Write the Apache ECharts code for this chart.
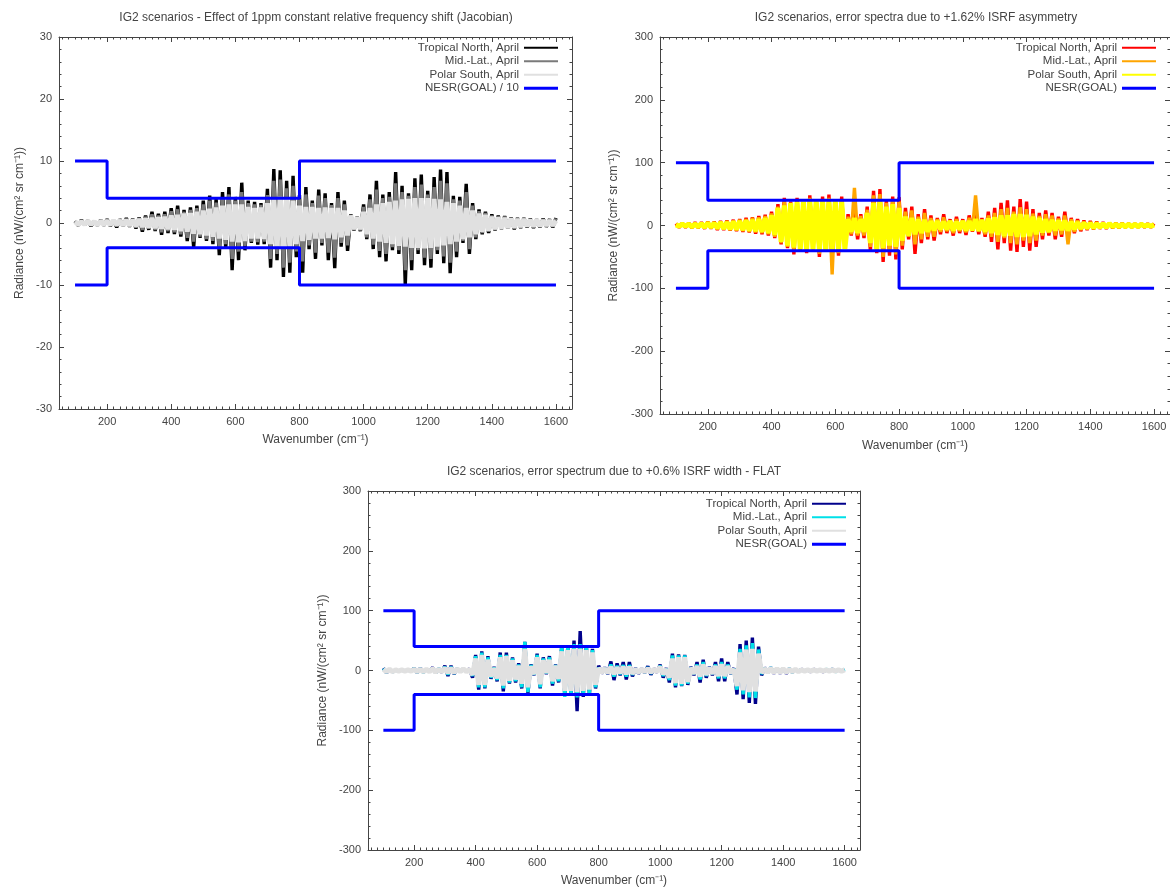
<!DOCTYPE html>
<html>
<head>
<meta charset="utf-8">
<script src="https://cdn.jsdelivr.net/npm/echarts@6/dist/echarts.min.js"></script>
<style>
  html, body { margin: 0; padding: 0; background: #fff; }
  #chart { width: 1170px; height: 888px; }
</style>
</head>
<body>
<div id="chart"></div>
<script>
// wavenumber grid (cm-1)
var wn = [
  100,110,120,130,140,150,160,170,180,190,
  200,210,220,230,240,250,260,270,280,290,
  300,310,320,330,340,350,360,370,380,390,
  400,410,420,430,440,450,460,470,480,490,
  500,510,520,530,540,550,560,570,580,590,
  600,610,620,630,640,650,660,670,680,690,
  700,710,720,730,740,750,760,770,780,790,
  800,810,820,830,840,850,860,870,880,890,
  900,910,920,930,940,950,960,970,980,990,
  1000,1010,1020,1030,1040,1050,1060,1070,1080,1090,
  1100,1110,1120,1130,1140,1150,1160,1170,1180,1190,
  1200,1210,1220,1230,1240,1250,1260,1270,1280,1290,
  1300,1310,1320,1330,1340,1350,1360,1370,1380,1390,
  1400,1410,1420,1430,1440,1450,1460,1470,1480,1490,
  1500,1510,1520,1530,1540,1550,1560,1570,1580,1590,
  1600
];

// panel 1 - 1ppm frequency shift (Jacobian)
var jacTropical = [
  0.3,-0.4,0.5,-0.3,0.4,-0.5,0.3,-0.4,0.5,-0.4,
  0.6,-0.5,0.4,-0.7,0.6,-0.5,0.8,-0.6,0.7,-0.9,
  0.9,-1.4,1.2,-1.1,1.8,-1.3,1.5,-1.9,1.8,-1.6,
  2.4,-1.8,2.8,-2.2,2.1,-2.9,2.5,-3.9,2.8,-2.4,
  3.6,-2.9,4.4,-3.4,3.9,-5.2,5.0,-4.0,5.8,-7.6,
  4.2,-6.0,6.5,-4.4,3.6,-3.2,3.4,-3.5,3.2,-3.4,
  5.5,-7.2,8.7,-6.0,8.5,-8.7,6.8,-8.0,7.6,-5.5,
  4.5,-8.0,5.8,-4.2,3.6,-5.8,5.4,-3.6,4.8,-6.0,
  3.2,-7.3,5.0,-3.8,3.6,-4.5,1.4,-1.2,1.0,-1.3,
  3.0,-2.6,4.6,-4.2,6.8,-5.5,4.6,-6.2,5.0,-4.4,
  8.2,-5.0,6.0,-10.0,4.8,-7.6,7.2,-5.0,7.8,-6.8,
  5.2,-7.2,7.4,-5.0,8.6,-6.5,8.2,-8.1,4.4,-5.5,
  4.2,-3.2,6.3,-5.0,3.2,-2.6,2.2,-1.8,1.8,-1.6,
  1.4,-1.2,1.2,-1.0,1.1,-0.9,0.9,-1.0,0.8,-0.8,
  0.8,-0.7,0.7,-0.8,0.6,-0.7,0.7,-0.6,0.6,-0.7,
  0.8
];
var jacMidLat = [
  0.3,-0.3,0.4,-0.3,0.3,-0.4,0.3,-0.3,0.4,-0.3,
  0.5,-0.4,0.4,-0.5,0.5,-0.4,0.6,-0.5,0.6,-0.7,
  0.8,-1.1,1.0,-0.9,1.4,-1.1,1.2,-1.5,1.4,-1.3,
  1.9,-1.5,2.2,-1.8,1.8,-2.4,2.1,-3.0,2.4,-2.2,
  3.0,-2.6,3.6,-2.9,3.3,-4.2,4.0,-3.4,4.6,-5.8,
  3.6,-4.6,5.0,-3.7,3.2,-3.0,3.0,-3.1,2.9,-3.0,
  4.5,-5.8,6.8,-5.0,7.0,-7.2,5.6,-6.4,6.0,-4.6,
  3.8,-6.2,4.6,-3.6,3.2,-4.8,4.4,-3.2,4.0,-4.8,
  2.9,-5.6,4.0,-3.2,3.0,-3.6,1.3,-1.1,1.0,-1.2,
  2.6,-2.3,3.8,-3.5,5.4,-4.5,4.0,-5.0,4.2,-3.9,
  6.4,-4.4,5.0,-7.6,4.4,-6.0,5.8,-4.4,6.2,-5.6,
  4.6,-5.8,5.8,-4.4,6.8,-5.4,6.4,-6.4,3.8,-4.6,
  3.6,-2.9,5.0,-4.2,2.8,-2.3,1.9,-1.6,1.6,-1.4,
  1.2,-1.1,1.0,-0.9,1.0,-0.8,0.8,-0.9,0.7,-0.7,
  0.7,-0.6,0.6,-0.7,0.5,-0.6,0.6,-0.5,0.5,-0.6,
  0.7
];
var jacPolar = [
  0.2,-0.2,0.2,-0.2,0.3,-0.2,0.2,-0.3,0.3,-0.2,
  0.3,-0.3,0.4,-0.3,0.4,-0.4,0.5,-0.4,0.5,-0.5,
  0.6,-0.6,0.7,-0.7,0.8,-0.8,0.9,-0.9,1.0,-1.0,
  1.2,-1.1,1.3,-1.3,1.5,-1.4,1.6,-1.7,1.8,-1.8,
  2.0,-2.0,2.3,-2.2,2.5,-2.5,2.8,-2.7,3.0,-3.0,
  3.0,-3.1,3.0,-2.9,2.6,-2.5,2.4,-2.5,2.5,-2.6,
  3.2,-3.4,3.8,-3.8,4.2,-4.0,4.0,-3.8,3.6,-3.4,
  2.8,-2.9,2.6,-2.7,2.6,-2.5,2.4,-2.5,2.5,-2.4,
  2.4,-2.6,2.4,-2.3,2.0,-2.0,1.2,-1.0,0.9,-1.0,
  1.8,-1.8,2.4,-2.5,3.0,-3.0,3.2,-3.2,3.4,-3.4,
  3.6,-3.7,3.8,-3.8,3.9,-4.0,4.0,-4.0,4.0,-4.1,
  4.0,-4.0,3.9,-3.8,3.8,-3.6,3.4,-3.4,3.2,-3.0,
  2.8,-2.6,2.4,-2.3,2.0,-1.8,1.5,-1.4,1.3,-1.2,
  1.0,-1.0,0.9,-0.9,0.8,-0.8,0.7,-0.7,0.6,-0.6,
  0.6,-0.5,0.5,-0.5,0.5,-0.5,0.4,-0.4,0.4,-0.4,
  0.4
];

// panel 2 - +1.62% ISRF asymmetry
var asymTropical = [
  3,-3,4,-3,4,-4,5,-4,5,-5,
  6,-5,6,-7,7,-7,8,-8,9,-9,
  10,-10,12,-11,13,-13,15,-14,17,-16,
  22,-20,34,-30,44,-36,38,-46,44,-40,
  36,-44,48,-38,42,-50,46,-40,49,-47,
  40,-48,46,-36,18,-16,20,-22,18,-20,
  30,-40,55,-44,58,-58,40,-48,46,-54,
  45,-38,28,-22,30,-45,18,-28,26,-22,
  16,-24,12,-14,18,-12,10,-16,14,-12,
  10,-15,16,-10,18,-14,12,-18,22,-26,
  28,-38,36,-28,40,-40,30,-42,42,-34,
  38,-40,26,-34,20,-22,24,-16,20,-22,
  14,-18,22,-16,12,-12,10,-9,8,-7,
  7,-6,6,-5,5,-5,4,-4,4,-4,
  4,-3,3,-3,3,-3,3,-3,3,-3,
  3
];
var asymMidLat = [
  2,-2,3,-2,3,-3,4,-3,4,-4,
  5,-4,5,-6,6,-6,7,-7,8,-8,
  9,-9,10,-10,12,-11,13,-12,15,-14,
  19,-18,30,-28,38,-34,35,-40,40,-38,
  34,-40,44,-36,40,-45,42,-38,44,-78,
  38,-44,42,-34,14,-14,60,-16,15,-16,
  25,-34,48,-40,50,-50,36,-42,42,-46,
  38,-32,22,-18,24,-30,14,-22,20,-18,
  12,-18,10,-10,13,-9,8,-12,10,-9,
  8,-11,12,-8,48,-10,9,-14,16,-18,
  20,-26,26,-20,28,-28,22,-30,29,-24,
  26,-28,19,-24,15,-16,18,-12,16,-16,
  11,-14,16,-30,10,-10,8,-7,6,-6,
  5,-5,5,-4,4,-4,3,-3,3,-3,
  3,-3,3,-2,2,-2,2,-2,2,-2,
  2
];
var asymPolar = [
  1,-1,2,-1,2,-2,2,-2,3,-3,
  4,-3,4,-4,5,-5,5,-6,6,-6,
  7,-7,8,-8,9,-9,10,-10,12,-12,
  16,-15,28,-26,32,-32,36,-35,37,-38,
  38,-38,39,-38,40,-39,40,-40,38,-38,
  39,-38,38,-37,10,-10,12,-12,10,-10,
  20,-28,36,-38,38,-36,30,-32,34,-34,
  28,-24,14,-16,12,-14,10,-12,9,-10,
  7,-8,7,-6,6,-6,7,-8,6,-6,
  7,-8,7,-8,10,-8,9,-10,11,-12,
  13,-15,16,-17,16,-16,18,-18,18,-18,
  17,-17,14,-14,12,-11,10,-10,9,-8,
  8,-7,8,-8,6,-6,5,-5,4,-4,
  4,-4,3,-3,3,-3,3,-2,2,-2,
  2,-2,2,-2,2,-2,2,-1,1,-1,
  1
];

// panel 3 - +0.6% ISRF width
var widthTropical = [
  4,-4,2,-2,1,-1,1,-1,1,-1,
  4,-4,4,-3,2,-2,5,-4,3,-3,
  8,-9,8,-6,3,-2,3,-2,3,-12,
  26,-32,32,-30,24,-14,6,-18,30,-35,
  30,-22,22,-20,12,-30,48,-38,10,-8,
  28,-30,22,-6,24,-25,10,-20,40,-42,
  42,-40,50,-68,66,-44,42,-40,36,-30,
  8,-5,5,-6,15,-16,12,-8,14,-15,
  14,-10,4,-5,3,-4,7,-7,3,-3,
  10,-12,4,-20,28,-28,27,-26,26,-24,
  6,-8,14,-20,18,-12,6,-8,14,-18,
  20,-18,14,-6,4,-40,44,-48,50,-54,
  55,-56,40,-8,5,-4,5,-5,4,-5,
  4,-5,3,-3,2,-2,2,-1,1,-2,
  2,-1,1,-2,1,-1,2,-1,1,-1,
  1
];
var widthMidLat = [
  3,-3,2,-2,1,-1,1,-1,1,-1,
  3,-3,3,-3,2,-2,4,-4,3,-2,
  6,-7,6,-5,3,-2,3,-2,2,-9,
  24,-28,30,-28,22,-12,5,-16,26,-30,
  26,-20,20,-18,10,-28,48,-36,9,-7,
  26,-28,20,-5,22,-22,9,-18,42,-44,
  42,-40,44,-45,44,-40,40,-38,34,-28,
  5,-4,4,-5,10,-10,8,-6,9,-10,
  9,-7,3,-4,2,-3,5,-5,2,-2,
  8,-9,3,-16,25,-25,25,-25,25,-22,
  5,-6,10,-15,14,-9,5,-6,10,-13,
  14,-13,10,-5,3,-32,36,-40,42,-45,
  46,-46,35,-6,4,-4,5,-4,4,-4,
  4,-4,3,-3,2,-2,2,-2,2,-2,
  2,-2,2,-2,2,-1,2,-2,1,-1,
  2
];
var widthPolar = [
  2,-2,2,-2,1,-1,1,-1,1,-1,
  2,-2,2,-2,2,-2,3,-3,2,-2,
  4,-4,4,-4,3,-2,3,-2,2,-7,
  20,-24,26,-24,18,-10,4,-13,22,-25,
  24,-17,17,-15,8,-22,36,-28,7,-6,
  22,-23,17,-4,18,-18,8,-14,32,-34,
  34,-34,36,-36,36,-34,34,-32,30,-24,
  4,-3,3,-4,6,-6,5,-4,6,-6,
  6,-5,2,-3,2,-2,3,-3,2,-2,
  6,-6,2,-12,20,-21,22,-22,22,-19,
  4,-5,7,-10,10,-7,4,-5,7,-9,
  10,-9,7,-4,2,-26,30,-33,35,-36,
  36,-35,28,-4,3,-3,3,-3,3,-3,
  3,-3,2,-2,2,-2,1,-1,1,-1,
  1,-1,1,-1,1,-1,1,-1,1,-1,
  1
];

// NESR step curve
var nesrX = [100, 200, 200, 800, 800, 1600];
var nesrGoal = [100, 100, 40, 40, 100, 100];
var nesrGoalTenth = [10, 10, 4, 4, 10, 10];

var xTicks = [200, 400, 600, 800, 1000, 1200, 1400, 1600];
var scenarioNames = ['Tropical North, April', 'Mid.-Lat., April', 'Polar South, April'];

var axisColor = '#444';
var font = { fontFamily: 'Liberation Sans', fontSize: 11, color: '#444' };
var nameFont = Object.assign({}, font, { fontSize: 12 });

var xMinor = [];
for (var m = 60; m <= 1640; m += 20) xMinor.push(m);

function xAxes(g, nameGap) {
  var line = { show: true, onZero: false, lineStyle: { color: axisColor, width: 1 } };
  function ax(pos, major, labels) {
    return {
      gridIndex: g, type: 'value', position: pos, min: 50, max: 1650,
      splitLine: { show: false },
      axisLine: major ? line : { show: false, onZero: false },
      axisTick: { inside: true, length: major ? 5 : 2.5, customValues: major ? xTicks : xMinor,
        lineStyle: { color: axisColor } },
      axisLabel: labels ? Object.assign({ customValues: xTicks, margin: 7,
        formatter: function (v) { return String(v); } }, font) : { show: false },
      name: labels ? 'Wavenumber (cm\u207B\u00B9)' : '',
      nameLocation: 'middle', nameGap: nameGap, nameTextStyle: nameFont
    };
  }
  return [ax('bottom', true, true), ax('top', true, false), ax('bottom', false, false), ax('top', false, false)];
}

function yAxes(g, lim, step, nameGap) {
  function ax(pos, labels) {
    return {
      gridIndex: g, type: 'value', position: pos, min: -lim, max: lim, interval: step,
      splitLine: { show: false },
      axisLine: { show: true, onZero: false, lineStyle: { color: axisColor, width: 1 } },
      axisTick: { inside: true, length: 5, lineStyle: { color: axisColor } },
      minorTick: { show: true, splitNumber: 5, length: 2.5, lineStyle: { color: axisColor } },
      axisLabel: labels ? Object.assign({ margin: 7 }, font) : { show: false },
      name: labels ? 'Radiance (nW/(cm\u00B2 sr cm\u207B\u00B9))' : '',
      nameLocation: 'middle', nameGap: nameGap, nameTextStyle: nameFont
    };
  }
  return [ax('left', true), ax('right', false)];
}

// dense spectra: thick zigzag plus fill to zero so the band reads as solid
function spectrum(g, name, vals, color, width) {
  return {
    type: 'line', name: name, xAxisIndex: 4 * g, yAxisIndex: 2 * g,
    data: wn.map(function (x, i) { return [x, vals[i]]; }),
    symbol: 'none', showSymbol: false, silent: true,
    lineStyle: { color: color, width: width, join: 'bevel' }, itemStyle: { color: color },
    areaStyle: { color: color, opacity: 1 }
  };
}

function nesr(g, name, levels, sign) {
  return {
    type: 'line', name: name, xAxisIndex: 4 * g, yAxisIndex: 2 * g,
    data: nesrX.map(function (x, i) { return [x, sign * levels[i]]; }),
    symbol: 'none', showSymbol: false, silent: true,
    lineStyle: { color: '#0000ff', width: 3 }, itemStyle: { color: '#0000ff' }
  };
}

function legend(right, top, names, colors) {
  return {
    orient: 'vertical', align: 'right', right: right, top: top, padding: 0,
    itemGap: 0, itemWidth: 34, itemHeight: 12, selectedMode: false, symbolKeepAspect: true,
    textStyle: Object.assign({}, font, { fontSize: 11.5, lineHeight: 13.5 }),
    data: names.map(function (n, i) {
      return { name: n, icon: i === 3 ? 'path://M0,0H34V3H0Z' : 'path://M0,0H34V2H0Z',
        itemStyle: { color: colors[i], borderWidth: 0 } };
    })
  };
}

var panels = [
  { title: 'IG2 scenarios - Effect of 1ppm constant relative frequency shift (Jacobian)',
    tx: 316, ty: 12, grid: { left: 59, top: 37, width: 513, height: 372 },
    lim: 30, step: 10, series: [jacTropical, jacMidLat, jacPolar],
    colors: ['#000000', '#7a7a7a', '#e0e0e0'], nesrName: 'NESR(GOAL) / 10', nesr: nesrGoalTenth,
    leg: [612, 41], yGap: 33, xGap: 25 },
  { title: 'IG2 scenarios, error spectra due to +1.62% ISRF asymmetry',
    tx: 916, ty: 12, grid: { left: 660, top: 37, width: 510, height: 377 },
    lim: 300, step: 100, series: [asymTropical, asymMidLat, asymPolar],
    colors: ['#ff0000', '#ffa500', '#ffff00'], nesrName: 'NESR(GOAL)', nesr: nesrGoal,
    leg: [14, 41], yGap: 40, xGap: 26 },
  { title: 'IG2 scenarios, error spectrum due to +0.6% ISRF width - FLAT',
    tx: 614, ty: 466, grid: { left: 368, top: 491, width: 492, height: 361 },
    lim: 300, step: 100, series: [widthTropical, widthMidLat, widthPolar],
    colors: ['#00008b', '#00e0e8', '#e0e0e0'], nesrName: 'NESR(GOAL)', nesr: nesrGoal,
    leg: [324, 497], yGap: 39, xGap: 25 }
];

var widths = [3.4, 3.4, 5];

var option = {
  animation: false,
  backgroundColor: '#fff',
  title: [], grid: [], xAxis: [], yAxis: [], legend: [], series: []
};

panels.forEach(function (p, g) {
  option.title.push({ text: p.title, left: p.tx, top: p.ty, textAlign: 'center', padding: 0,
    textStyle: Object.assign({}, nameFont, { fontWeight: 'normal' }) });
  option.grid.push(Object.assign({ containLabel: false }, p.grid));
  option.xAxis = option.xAxis.concat(xAxes(g, p.xGap));
  option.yAxis = option.yAxis.concat(yAxes(g, p.lim, p.step, p.yGap));
  p.series.forEach(function (vals, k) {
    option.series.push(spectrum(g, scenarioNames[k], vals, p.colors[k], widths[k]));
  });
  option.series.push(nesr(g, p.nesrName, p.nesr, 1));
  option.series.push(nesr(g, p.nesrName, p.nesr, -1));
  option.legend.push(legend(p.leg[0], p.leg[1], scenarioNames.concat([p.nesrName]),
    p.colors.concat(['#0000ff'])));
});

var chart = echarts.init(document.getElementById('chart'), null, { renderer: 'canvas' });
chart.setOption(option);
</script>
</body>
</html>
